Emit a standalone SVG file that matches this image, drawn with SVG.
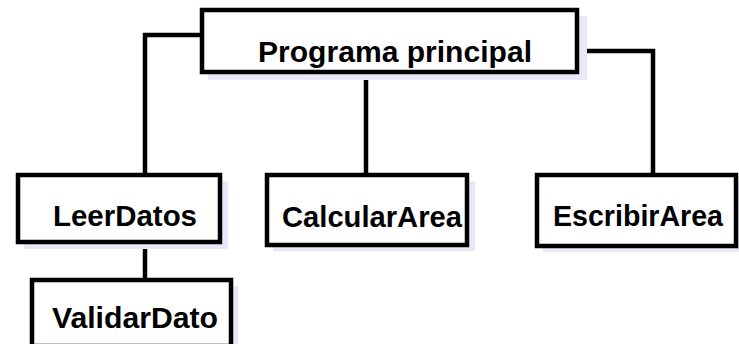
<svg xmlns="http://www.w3.org/2000/svg" width="739" height="344" viewBox="0 0 739 344">
<style>
.box{fill:#fff;stroke:#000;stroke-width:4.5}
.shadow{fill:#e8e8f8;stroke:none}
.lbl{font-family:"Liberation Sans",Arial,sans-serif;font-weight:bold;font-size:30px;fill:#000}
.conn{fill:none;stroke:#000;stroke-width:4.5}
</style>
<rect width="739" height="344" fill="#fff"/>
<g id="connectors">
<polyline class="conn" points="202,35 145,35 145,175"/>
<polyline class="conn" points="583,51 653,51 653,175"/>
<line class="conn" x1="366" y1="78" x2="366" y2="175"/>
<line class="conn" x1="145" y1="243" x2="145" y2="280"/>
</g>
<g id="programa-principal">
<rect class="shadow" x="208" y="16" width="379" height="64"/>
<rect class="box" x="202" y="10" width="375" height="62"/>
<text class="lbl" x="258" y="62" textLength="274" lengthAdjust="spacingAndGlyphs">Programa principal</text>
</g>
<g id="leer-datos">
<rect class="shadow" x="24" y="181" width="204" height="68"/>
<rect class="box" x="18" y="175" width="202" height="67"/>
<text class="lbl" x="53" y="226" textLength="144" lengthAdjust="spacingAndGlyphs">LeerDatos</text>
</g>
<g id="validar-dato">
<rect class="shadow" x="38" y="286" width="200" height="70"/>
<rect class="box" x="32" y="280" width="199" height="66"/>
<text class="lbl" x="52" y="328" textLength="166" lengthAdjust="spacingAndGlyphs">ValidarDato</text>
</g>
<g id="calcular-area">
<rect class="shadow" x="273" y="181" width="202" height="70"/>
<rect class="box" x="267" y="175" width="200" height="70"/>
<text class="lbl" x="282" y="227" textLength="180" lengthAdjust="spacingAndGlyphs">CalcularArea</text>
</g>
<g id="escribir-area">
<rect class="shadow" x="543" y="181" width="200" height="71"/>
<rect class="box" x="537" y="175" width="199" height="71"/>
<text class="lbl" x="553" y="226" textLength="170" lengthAdjust="spacingAndGlyphs">EscribirArea</text>
</g>
</svg>
